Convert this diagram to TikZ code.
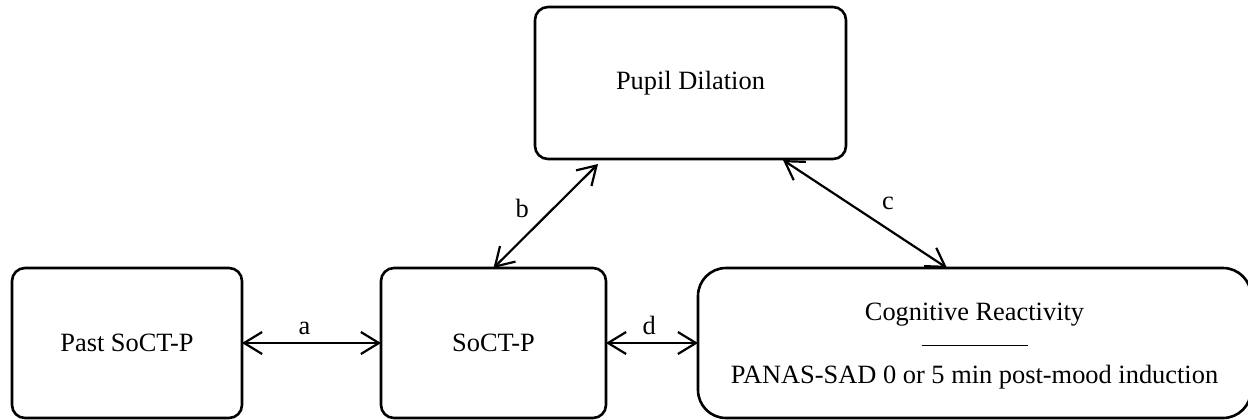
\documentclass[tikz,border=0pt]{standalone}
\usepackage{fontspec}
\setmainfont{Liberation Serif}
\usetikzlibrary{arrows.meta,calc}
\begin{document}
\begin{tikzpicture}[x=0.5pt,y=-0.5pt,
  txt/.style={font=\fontsize{13.2}{15.84}\selectfont},
  box/.style={txt, draw, line width=1.3pt, rounded corners=6.5pt,
    inner sep=0pt, outer sep=0pt, align=center},
  barb/.tip={Straight Barb[length=9pt,width=11pt]},
  link/.style={line width=1.1pt, barb-barb},
  lab/.style={txt}]
\useasboundingbox (0,0) rectangle (1248,419);

% variables
\node[box, minimum width=115pt, minimum height=75pt] (past) at (127,343) {Past SoCT-P};
\node[box, minimum width=112.5pt, minimum height=75pt] (soct) at (493.5,343) {SoCT-P};
\node[box, minimum width=155.5pt, minimum height=76pt] (pupil) at (690.5,83) {Pupil Dilation};
\node[box, rounded corners=14pt, minimum width=276.5pt, minimum height=75pt] (cr) at (974.5,343)
  {\rule{0pt}{12pt}Cognitive Reactivity\\[-3.1pt]\rule{53pt}{0.5pt}\\[3.2pt]PANAS-SAD 0 or 5 min post-mood induction};

% associations
\draw[link] (past.east) -- node[lab, pos=0.45, above] {a} (soct.west);
\draw[link] (soct.east) -- node[lab, pos=0.47, above] {d} (cr.west);
\draw[link] (soct.north) -- node[lab, midway, xshift=-11.75pt, yshift=4pt] {b}
  ($(pupil.south west)+(63,5)$);
\draw[link] ($(pupil.south east)+(-63,1)$) -- node[lab, midway, xshift=11.5pt, yshift=5.5pt] {c}
  ($(cr.north west)+(249,0)$);
\end{tikzpicture}
\end{document}
